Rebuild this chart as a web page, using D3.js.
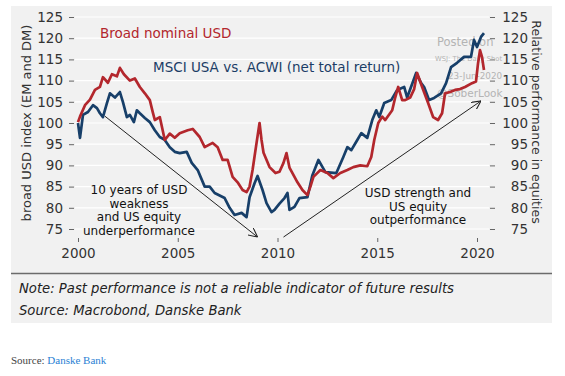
<!DOCTYPE html>
<html>
<head>
<meta charset="utf-8">
<script src="https://cdn.jsdelivr.net/npm/d3@7"></script>
<style>
  body { margin: 0; background: #fff; }
  svg text { font-family: "DejaVu Sans", sans-serif; }
</style>
</head>
<body>
<div id="chart"></div>
<script>
////////////
//  DATA  //
////////////

// broad nominal USD index, decimal year -> value
var usdYears = [2000.0, 2000.1, 2000.35, 2000.6, 2000.85, 2001.1, 2001.25, 2001.5, 2001.7, 2001.95,
  2002.1, 2002.3, 2002.6, 2002.85, 2003.1, 2003.35, 2003.6, 2003.75, 2003.85, 2004.1,
  2004.35, 2004.6, 2004.85, 2005.1, 2005.5, 2005.75, 2006.1, 2006.35, 2006.75, 2007.0,
  2007.25, 2007.5, 2007.75, 2008.0, 2008.25, 2008.45, 2008.6, 2008.75, 2008.95, 2009.1,
  2009.2, 2009.3, 2009.6, 2009.9, 2010.1, 2010.3, 2010.45, 2010.6, 2010.75, 2011.0,
  2011.25, 2011.5, 2011.65, 2011.8, 2012.15, 2012.5, 2012.8, 2013.15, 2013.5, 2013.8,
  2014.15, 2014.5, 2014.7, 2014.85, 2015.05, 2015.25, 2015.4, 2015.75, 2015.9, 2016.05,
  2016.25, 2016.4, 2016.65, 2016.85, 2017.0, 2017.25, 2017.55, 2017.8, 2018.05, 2018.25,
  2018.4, 2018.65, 2018.9, 2019.15, 2019.4, 2019.75, 2019.95, 2020.05, 2020.15, 2020.25, 2020.35];
var usdValues = [100.2, 101.5, 104.2, 105.5, 107.8, 108.5, 110.8, 109.5, 111.5, 111,
  113, 111.5, 110, 110.5, 108.5, 107, 105.4, 102.5, 100.7, 101.4,
  96, 97.5, 96.5, 97.6, 98.3, 98.6, 96.7, 94.3, 95.3, 94.3,
  91.3, 91.3, 87.3, 86, 84.2, 83.7, 85, 88.9, 95.3, 100,
  96, 93, 89.6, 88.2, 88.5, 90.6, 92.9, 89.5, 88.2, 86,
  84.2, 83, 85, 87.3, 88.9, 88.2, 87, 88.2, 88.9, 89.6,
  90, 89.8, 92, 96, 100, 101.5, 100.7, 103, 106, 108.5,
  105.4, 105.4, 106, 108, 111.8, 108.5, 104.7, 101.4, 100.7, 102.3,
  107, 107.3, 107.8, 108, 108.5, 109.4, 109.8, 114, 117.2, 115.6, 112.5];

// MSCI USA vs ACWI relative performance
var msciYears = [2000.0, 2000.1, 2000.25, 2000.5, 2000.75, 2000.95, 2001.1, 2001.25, 2001.45, 2001.6,
  2001.85, 2002.1, 2002.25, 2002.45, 2002.6, 2002.8, 2002.95, 2003.1, 2003.35, 2003.6,
  2003.85, 2004.1, 2004.35, 2004.6, 2004.85, 2005.1, 2005.45, 2005.7, 2006.0, 2006.35,
  2006.6, 2006.85, 2007.35, 2007.6, 2007.85, 2008.2, 2008.45, 2008.6, 2008.85, 2009.0,
  2009.25, 2009.45, 2009.7, 2009.85, 2010.1, 2010.35, 2010.5, 2010.6, 2010.85, 2011.1,
  2011.5, 2011.75, 2012.05, 2012.4, 2012.95, 2013.3, 2013.5, 2013.7, 2014.0, 2014.2,
  2014.5, 2014.75, 2014.95, 2015.1, 2015.35, 2015.7, 2016.0, 2016.35, 2016.5, 2016.95,
  2017.2, 2017.35, 2017.6, 2017.85, 2018.2, 2018.45, 2018.7, 2019.0, 2019.35, 2019.7,
  2019.85, 2020.0, 2020.2, 2020.35];
var msciValues = [100, 96.5, 101.9, 102.6, 104.2, 103.5, 102.3, 101.4, 104.7, 107,
  106, 107.3, 105, 101.4, 101.9, 100.2, 103, 102.3, 101.2, 100.2,
  98.3, 96.7, 96, 94.3, 93.2, 92.9, 93.2, 90.6, 88.9, 85,
  85, 83.5, 82.3, 80, 78.3, 78.8, 77.8, 82.5, 85.8, 87.5,
  84.2, 81.1, 79, 79.5, 81, 82.3, 83.5, 79.5, 80.2, 82.3,
  82.5, 87.7, 91.3, 88.4, 88.2, 92, 94.3, 93.6, 96, 97.6,
  96.5, 100.7, 103, 101.4, 104.7, 105.4, 107.8, 108.5, 106, 111.8,
  109.4, 108.5, 105.4, 105.9, 107, 109.4, 113.2, 114.2, 115.6, 115.6,
  119.6, 117.9, 120.3, 121.2];

var yTicks = [75, 80, 85, 90, 95, 100, 105, 110, 115, 120, 125];
var xTicks = [2000, 2005, 2010, 2015, 2020];

var leftNote = ["10 years of USD", "weakness", "and US equity", "underperformance"];
var rightNote = ["USD strength and", "US equity", "outperformance"];

//////////////////////
// SVG + DIMENSIONS //
//////////////////////

var svgWidth = 565, svgHeight = 376;
var svg = d3.select("#chart").append("svg")
  .attr("width", svgWidth)
  .attr("height", svgHeight);

// grey panel behind chart and notes
svg.append("rect")
  .attr("x", 11).attr("y", 6)
  .attr("width", 541).attr("height", 317)
  .attr("fill", "#f1f1f1");

var x = d3.scaleLinear().domain([2000, 2020]).range([78, 477]);
var y = d3.scaleLinear().domain([75, 125]).range([229, 17]);

// gridlines
svg.append("g")
  .selectAll("line")
  .data(yTicks)
  .enter().append("line")
  .attr("x1", 75).attr("x2", 489)
  .attr("y1", function (d) { return y(d); })
  .attr("y2", function (d) { return y(d); })
  .attr("stroke", "#fff")
  .attr("stroke-width", 1.2);

//////////
// AXES //
//////////

var yAxisLeft = d3.axisLeft(y).tickValues(yTicks).tickSize(5).tickPadding(6);
var yAxisRight = d3.axisRight(y).tickValues(yTicks).tickSize(5).tickPadding(6);
var xAxis = d3.axisBottom(x).tickValues(xTicks).tickFormat(d3.format("d")).tickSize(4).tickPadding(6);

var gl = svg.append("g").attr("transform", "translate(74,0)").call(yAxisLeft);
var gr = svg.append("g").attr("transform", "translate(490,0)").call(yAxisRight);
var gx = svg.append("g").attr("transform", "translate(0,238)").call(xAxis);

[gl, gr, gx].forEach(function (g) {
  g.select(".domain").remove();
  g.selectAll(".tick line").attr("stroke", "#666");
  g.selectAll(".tick text")
    .attr("fill", "#333")
    .style("font-size", "13.5px")
    .style("font-family", "DejaVu Sans, sans-serif");
});
gr.selectAll(".tick text").attr("x", 38).style("text-anchor", "end");

// axis titles
svg.append("text")
  .attr("transform", "translate(31,123) rotate(-90)")
  .attr("text-anchor", "middle")
  .attr("fill", "#333")
  .style("font-size", "13px")
  .text("broad USD index (EM and DM)");

svg.append("text")
  .attr("transform", "translate(532,122) rotate(90)")
  .attr("text-anchor", "middle")
  .attr("fill", "#333")
  .style("font-size", "12.5px")
  .text("Relative performance in equities");

///////////////
// WATERMARK //
///////////////

var wm = svg.append("g").attr("fill", "#b4b4b4")
  .style("font-family", "Liberation Sans, Arial, sans-serif");
wm.append("text").attr("x", 437).attr("y", 46).style("font-size", "11.5px").text("Posted on");
wm.append("text").attr("x", 435).attr("y", 61).style("font-size", "6.8px").text("WSJ: The Daily Shot");
wm.append("text").attr("x", 448).attr("y", 79).style("font-size", "8.8px").text("23-Jun-2020");
wm.append("text").attr("x", 437).attr("y", 97).style("font-size", "10.5px").text("@SoberLook");

///////////
// LINES //
///////////

var usd = usdYears.map(function (d, i) { return { t: d, v: usdValues[i] }; });
var msci = msciYears.map(function (d, i) { return { t: d, v: msciValues[i] }; });

var line = d3.line()
  .x(function (d) { return x(d.t); })
  .y(function (d) { return y(d.v); });

svg.append("path").datum(msci)
  .attr("d", line)
  .attr("fill", "none")
  .attr("stroke", "#173f69")
  .attr("stroke-width", 2.7)
  .attr("stroke-linejoin", "round");

svg.append("path").datum(usd)
  .attr("d", line)
  .attr("fill", "none")
  .attr("stroke", "#b3272d")
  .attr("stroke-width", 2.7)
  .attr("stroke-linejoin", "round");

/////////////////
// ANNOTATIONS //
/////////////////

svg.append("text")
  .attr("x", 100).attr("y", 38)
  .attr("fill", "#b3272d")
  .style("font-size", "13.5px")
  .text("Broad nominal USD");

svg.append("text")
  .attr("x", 153).attr("y", 72)
  .attr("fill", "#1b3d66")
  .style("font-size", "13.5px")
  .text("MSCI USA vs. ACWI (net total return)");

svg.append("defs").append("marker")
  .attr("id", "arrow")
  .attr("viewBox", "0 0 10 10")
  .attr("refX", 10).attr("refY", 5)
  .attr("markerWidth", 9).attr("markerHeight", 9)
  .attr("markerUnits", "userSpaceOnUse")
  .attr("orient", "auto")
  .append("path")
  .attr("d", "M0,0 L10,5 L0,10")
  .attr("fill", "none")
  .attr("stroke", "#222")
  .attr("stroke-width", 1.2);

var arrows = [
  { t1: 2001.35, v1: 101.6, t2: 2009.0, v2: 73.1 },
  { t1: 2010.3, v1: 73.1, t2: 2020.2, v2: 105.2 }
];
svg.selectAll(".arrow")
  .data(arrows)
  .enter().append("line")
  .attr("class", "arrow")
  .attr("x1", function (d) { return x(d.t1); })
  .attr("y1", function (d) { return y(d.v1); })
  .attr("x2", function (d) { return x(d.t2); })
  .attr("y2", function (d) { return y(d.v2); })
  .attr("stroke", "#222")
  .attr("stroke-width", 1)
  .attr("marker-end", "url(#arrow)");

svg.append("text")
  .attr("text-anchor", "middle")
  .attr("fill", "#111")
  .style("font-size", "12px")
  .selectAll("tspan")
  .data(leftNote)
  .enter().append("tspan")
  .attr("x", 139)
  .attr("y", function (d, i) { return 194 + i * 13.7; })
  .text(function (d) { return d; });

svg.append("text")
  .attr("text-anchor", "middle")
  .attr("fill", "#111")
  .style("font-size", "12px")
  .selectAll("tspan")
  .data(rightNote)
  .enter().append("tspan")
  .attr("x", 418)
  .attr("y", function (d, i) { return 197 + i * 13.5; })
  .text(function (d) { return d; });

///////////
// NOTES //
///////////

svg.append("line")
  .attr("x1", 11).attr("x2", 552)
  .attr("y1", 273.5).attr("y2", 273.5)
  .attr("stroke", "#6b6b6b")
  .attr("stroke-width", 1.5);

svg.append("text")
  .attr("x", 19).attr("y", 293)
  .attr("fill", "#222")
  .style("font-size", "13.2px")
  .style("font-style", "italic")
  .text("Note: Past performance is not a reliable indicator of future results");

svg.append("text")
  .attr("x", 19).attr("y", 315)
  .attr("fill", "#222")
  .style("font-size", "13.2px")
  .style("font-style", "italic")
  .text("Source: Macrobond, Danske Bank");

var src = svg.append("text")
  .attr("x", 11).attr("y", 364)
  .style("font-family", "Liberation Serif, serif")
  .style("font-size", "11px");
src.append("tspan").attr("fill", "#444").text("Source: ");
src.append("tspan").attr("fill", "#2a7fd4").text("Danske Bank");
</script>
</body>
</html>
